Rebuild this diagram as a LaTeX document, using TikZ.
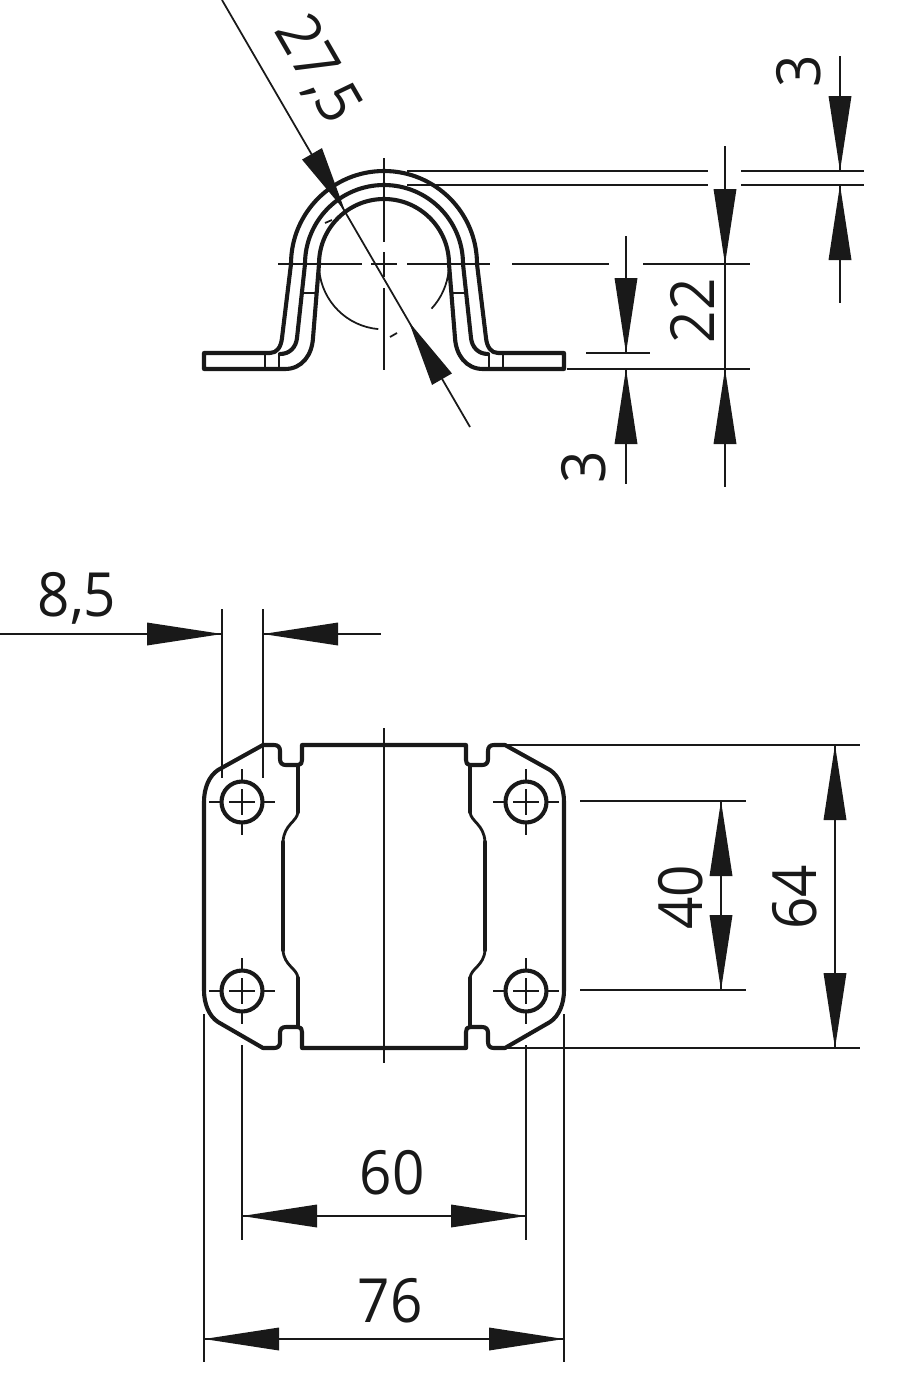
\documentclass[tikz,border=0pt]{standalone}
\usepackage{fontspec}
\setmainfont[FakeStretch=0.93]{Open Sans}
\tikzset{
  outline/.style={line width=3.5pt,line join=round,line cap=round,black!90},
  thinln/.style={line width=1.5pt,black!90},
  midln/.style={line width=2.4pt,black!90},
  dimtext/.style={inner sep=0pt,font=\fontsize{52}{52}\selectfont,text=black!90}
}
\newcommand{\tipat}[3]{\fill[black!90,shift={(#1,#2)},rotate=#3] (0,0) -- (75,11.5) -- (75,-11.5) -- cycle;}
\newcommand{\shorttip}[3]{\fill[black!90,shift={(#1,#2)},rotate=#3] (0,0) -- (66,11.5) -- (66,-11.5) -- cycle;}
\begin{document}
\begin{tikzpicture}[x=0.03cm,y=-0.03cm]
\useasboundingbox (0,0) rectangle (899,1400);
% --- upper view: extension lines
\draw[thinln] (407,171) -- (708,171) (741,171) -- (864,171);
\draw[thinln] (407,185) -- (708,185) (741,185) -- (864,185);
\draw[thinln] (278,264) -- (362,264) (371,264) -- (397,264) (407,264) -- (490,264) (512,264) -- (609,264) (643,264) -- (750,264);
\draw[thinln] (384,158) -- (384,242) (384,252) -- (384,277) (384,288) -- (384,370);
\draw[thinln] (567,369) -- (750,369);
\draw[thinln] (586,353) -- (650,353);
% thread arcs and ticks
\draw[thinln] (448.7,270) arc (5:43:65);
\draw[thinln] (319.2,270) arc (175:95:65);
\draw[thinln] (325,223) -- (332,220);
\draw[thinln] (390,337) -- (397,333);
\draw[midln] (304,293) -- (317,293) (453,293) -- (464,293);
% upper view: outline
\draw[outline] (270,353) -- (204,353) -- (204,369) -- (285,369)
  .. controls (302,369) and (312,355) .. (313,338) -- (319,264)
  arc (180:360:65) -- (455,338) .. controls (456,355) and (466,369) .. (483,369)
  -- (564,369) -- (564,353) -- (498,353);
\draw[outline] (270,353) .. controls (277,353) and (281,347) .. (282,338) -- (291,264)
  arc (180:360:93) -- (486,338) .. controls (487,347) and (491,353) .. (498,353);
\draw[outline] (280,354) .. controls (290,354) and (296,347) .. (297,338) -- (305,264)
  arc (180:360:79) -- (471,338) .. controls (472,347) and (478,354) .. (488,354);
\draw[midln] (265,353) -- (265,369) (279,353) -- (279,369) (489,353) -- (489,369) (503,353) -- (503,369);
% diagonal dimension
\draw[thinln] (222,0) -- (470,427);
\shorttip{345}{211}{120}
\shorttip{409}{322}{-60}
% vertical dimensions upper
\draw[thinln] (725,146) -- (725,487);
\tipat{725}{264}{90}
\tipat{725}{369}{270}
\draw[thinln] (840,56) -- (840,171) (840,185) -- (840,303);
\tipat{840}{171}{90}
\tipat{840}{185}{270}
\draw[thinln] (626,236) -- (626,353) (626,369) -- (626,484);
\tipat{626}{353}{90}
\tipat{626}{369}{270}
\node[dimtext,rotate=-60] (t275) at (317,70) {27,5};
\node[dimtext,rotate=90] (t3a) at (799,71) {3};
\node[dimtext,rotate=90] (t22) at (692,311) {22};
\node[dimtext,rotate=90] (t3b) at (584,467) {3};
% --- lower view: outline
\draw[outline] (204,802) .. controls (204,788) and (209,776) .. (218,770) -- (263,745) -- (274,745)
  .. controls (278,745) and (280,747) .. (280,751) -- (280,759)
  .. controls (280,763) and (282,765) .. (286,765) -- (298,765) .. controls (301,765) and (302,763) .. (302,760)
  -- (302,745) -- (466,745) -- (466,760) .. controls (466,763) and (467,765) .. (470,765)
  -- (482,765) .. controls (486,765) and (488,763) .. (488,759) -- (488,751)
  .. controls (488,747) and (490,745) .. (494,745) -- (505,745) -- (550,770)
  .. controls (559,776) and (564,788) .. (564,802) -- (564,990)
  .. controls (564,1004) and (559,1016) .. (550,1022) -- (505,1048) -- (494,1048)
  .. controls (490,1048) and (488,1046) .. (488,1042) -- (488,1033)
  .. controls (488,1029) and (486,1027) .. (482,1027) -- (470,1027) .. controls (467,1027) and (466,1029) .. (466,1032)
  -- (466,1048) -- (302,1048) -- (302,1032) .. controls (302,1029) and (301,1027) .. (298,1027)
  -- (286,1027) .. controls (282,1027) and (280,1029) .. (280,1033) -- (280,1042)
  .. controls (280,1046) and (278,1048) .. (274,1048) -- (263,1048) -- (218,1022)
  .. controls (209,1016) and (204,1004) .. (204,990) -- cycle;
\draw[outline] (298,765) -- (298,812) (298,978) -- (298,1027);
\draw[outline] (470,765) -- (470,812) (470,978) -- (470,1027);
\draw[outline] (283,842) -- (283,950);
\draw[outline] (485,842) -- (485,950);
\draw[midln] (298,812) .. controls (297,822) and (284,824) .. (283,842);
\draw[midln] (298,978) .. controls (297,968) and (284,966) .. (283,950);
\draw[midln] (470,812) .. controls (471,822) and (484,824) .. (485,842);
\draw[midln] (470,978) .. controls (471,968) and (484,966) .. (485,950);
% holes
\foreach \hx/\hy in {242/802,526/802,242/991,526/991}{
  \draw[outline] (\hx,\hy) circle (20.5);
  \draw[thinln] (\hx-33,\hy) -- (\hx-22,\hy) (\hx-13,\hy) -- (\hx+13,\hy) (\hx+22,\hy) -- (\hx+33,\hy);
  \draw[thinln] (\hx,\hy-33) -- (\hx,\hy-22) (\hx,\hy-13) -- (\hx,\hy+13) (\hx,\hy+22) -- (\hx,\hy+33);
}
\draw[thinln] (384,728) -- (384,1063);
% lower dimensions
\draw[thinln] (222,609) -- (222,778) (263,609) -- (263,778);
\draw[thinln] (0,634) -- (222,634) (263,634) -- (381,634);
\tipat{222}{634}{180}
\tipat{263}{634}{0}
\draw[thinln] (505,745) -- (860,745) (505,1048) -- (860,1048);
\draw[thinln] (835,745) -- (835,1048);
\tipat{835}{745}{270}
\tipat{835}{1048}{90}
\draw[thinln] (580,801) -- (746,801) (580,990) -- (746,990);
\draw[thinln] (721,801) -- (721,990);
\tipat{721}{801}{270}
\tipat{721}{990}{90}
\draw[thinln] (204,1014) -- (204,1362) (564,1014) -- (564,1362);
\draw[thinln] (242,1045) -- (242,1240) (526,1045) -- (526,1240);
\draw[thinln] (242,1216) -- (526,1216);
\tipat{242}{1216}{0}
\tipat{526}{1216}{180}
\draw[thinln] (204,1339) -- (564,1339);
\tipat{204}{1339}{0}
\tipat{564}{1339}{180}
\node[dimtext] (t85) at (77,598) {8,5};
\node[dimtext,rotate=90] (t40) at (681,897) {40};
\node[dimtext,rotate=90] (t64) at (795,897) {64};
\node[dimtext] (t60) at (392,1173) {60};
\node[dimtext] (t76) at (390,1301) {76};
\end{tikzpicture}
\end{document}
